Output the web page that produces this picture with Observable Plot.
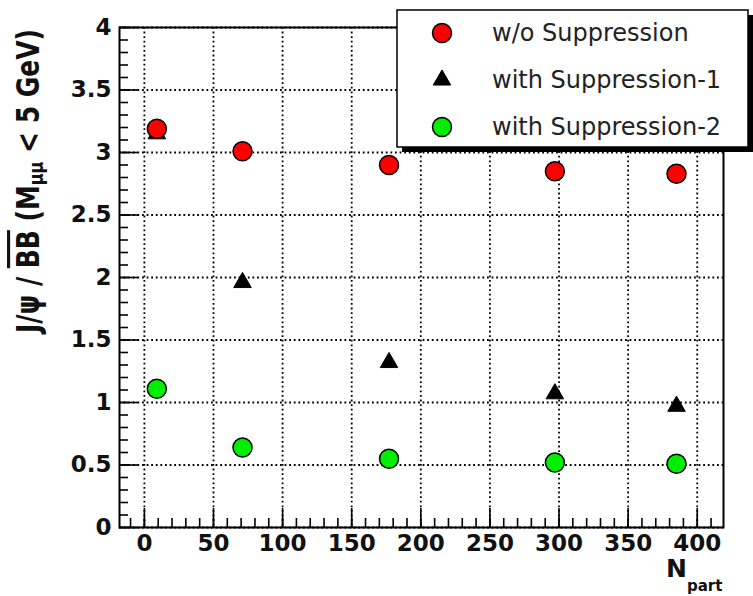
<!DOCTYPE html>
<html>
<head>
<meta charset="utf-8">
<script src="https://cdn.jsdelivr.net/npm/d3@7"></script>
<script src="https://cdn.jsdelivr.net/npm/@observablehq/plot@0.6"></script>
<style>
  body { margin: 0; background: #fff; }
  #chart { width: 753px; height: 596px; }
</style>
</head>
<body>
<div id="chart"></div>
<script>
// Number of participants (centrality bins)
const npart = [9, 71, 177, 297, 385];

// J/psi over B-Bbar ratio (M_mumu < 5 GeV) per scenario
const noSuppression = [3.19, 3.01, 2.90, 2.85, 2.83];
const suppression1  = [3.15, 1.96, 1.32, 1.07, 0.97];
const suppression2  = [1.11, 0.64, 0.55, 0.52, 0.51];

const seriesNames = ["w/o Suppression", "with Suppression-1", "with Suppression-2"];

// Axis ticks
const xTicks = [0, 50, 100, 150, 200, 250, 300, 350, 400];
const xMinorTicks = d3.range(-10, 420, 10);
const yTicks = [0, 0.5, 1, 1.5, 2, 2.5, 3, 3.5, 4];
const yTickLabels = ["0", "0.5", "1", "1.5", "2", "2.5", "3", "3.5", "4"];
const yMinorTicks = d3.range(0, 41).map(i => i / 10);

const rows = vals => npart.map((x, i) => ({x, y: vals[i]}));

const styles = [
  {symbol: "circle", r: 9.5, fill: "#ff0000", stroke: "#000", strokeWidth: 1.5},
  {symbol: "triangle", r: 6.5, fill: "#000", stroke: "#000", strokeWidth: 1},
  {symbol: "circle", r: 9.5, fill: "#00ee00", stroke: "#000", strokeWidth: 1.5}
];

const grid = {stroke: "#000", strokeOpacity: 1, strokeWidth: 1.8, strokeDasharray: "1.8,2.8"};
const tickStyle = {stroke: "#000", strokeWidth: 1.6};
const labelStyle = {fontSize: 23, fontWeight: "bold", fill: "#111", fontFamily: "DejaVu Sans"};

const plot = Plot.plot({
  width: 753,
  height: 596,
  marginLeft: 119,
  marginRight: 30,
  marginTop: 27,
  marginBottom: 69,
  style: {background: "#fff", fontFamily: "DejaVu Sans", overflow: "visible"},
  x: {domain: [-18, 419], label: null},
  y: {domain: [0, 4], label: null},
  marks: [
    Plot.gridX(xTicks, grid),
    Plot.gridY(yTicks, grid),
    Plot.axisX(xMinorTicks, {tickSize: -9, text: null, ...tickStyle}),
    Plot.axisX(xTicks, {tickSize: -19, text: null, ...tickStyle}),
    Plot.axisX(xTicks, {tickSize: 0, tickPadding: 7, ...labelStyle}),
    Plot.axisY(yMinorTicks, {tickSize: -9, text: null, ...tickStyle}),
    Plot.axisY(yTicks, {tickSize: -19, text: null, ...tickStyle}),
    Plot.axisY(yTicks, {tickSize: 0, tickPadding: 8, tickFormat: (d, i) => yTickLabels[i], ...labelStyle}),
    Plot.frame({stroke: "#000", strokeWidth: 2}),
    Plot.dot(rows(suppression1), {x: "x", y: "y", ...styles[1]}),
    Plot.dot(rows(noSuppression), {x: "x", y: "y", ...styles[0]}),
    Plot.dot(rows(suppression2), {x: "x", y: "y", ...styles[2]})
  ]
});

document.getElementById("chart").appendChild(plot);

const svg = d3.select(plot);

// Y axis title, rotated, with overline and subscript
const yTitle = svg.append("text")
  .attr("transform", "translate(28,181) scale(1.25,1) rotate(-90)")
  .attr("text-anchor", "middle")
  .attr("dominant-baseline", "central")
  .attr("font-family", "DejaVu Sans")
  .attr("font-weight", "bold")
  .attr("font-size", 25)
  .attr("fill", "#111");
yTitle.append("tspan").text("J/\u03c8 / ");
yTitle.append("tspan").style("text-decoration", "overline").text("BB");
yTitle.append("tspan").text(" (M");
yTitle.append("tspan").attr("font-size", 16).attr("dy", 6).text("\u03bc\u03bc");
yTitle.append("tspan").attr("dy", -6).text(" < 5 GeV)");

// X axis title N_part
const xTitle = svg.append("text")
  .attr("x", 666)
  .attr("y", 577)
  .attr("text-anchor", "start")
  .attr("font-family", "DejaVu Sans")
  .attr("font-weight", "bold")
  .attr("font-size", 25)
  .attr("fill", "#111");
xTitle.append("tspan").text("N");
xTitle.append("tspan").attr("font-size", 15).attr("dy", 14).text("part");

// Legend box with drop shadow
const legend = svg.append("g");
legend.append("rect")
  .attr("x", 402).attr("y", 15).attr("width", 351).attr("height", 137)
  .attr("fill", "#000");
legend.append("rect")
  .attr("x", 397).attr("y", 10).attr("width", 351).attr("height", 137)
  .attr("fill", "#fff").attr("stroke", "#000").attr("stroke-width", 1.5);

const symbolType = {circle: d3.symbolCircle, triangle: d3.symbolTriangle};
seriesNames.forEach((name, i) => {
  const s = styles[i];
  const cy = 33 + i * 47;
  legend.append("path")
    .attr("transform", `translate(442,${cy})`)
    .attr("d", d3.symbol(symbolType[s.symbol], Math.PI * s.r * s.r)())
    .attr("fill", s.fill)
    .attr("stroke", s.stroke)
    .attr("stroke-width", s.strokeWidth);
  legend.append("text")
    .attr("x", 492)
    .attr("y", cy)
    .attr("text-anchor", "start")
    .attr("dominant-baseline", "central")
    .attr("font-family", "DejaVu Sans")
    .attr("font-size", 24)
    .attr("fill", "#222")
    .text(name);
});
</script>
</body>
</html>
